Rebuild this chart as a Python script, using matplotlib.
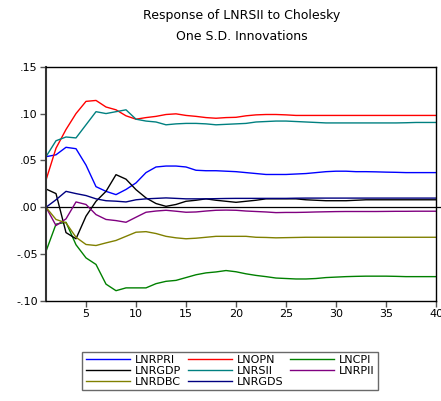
import matplotlib
matplotlib.use("Agg")
import matplotlib.pyplot as plt
import numpy as np

periods = np.arange(1, 41)

lnrpri = [0.054, 0.056, 0.064, 0.0625, 0.045, 0.022, 0.017, 0.0135, 0.019, 0.026,
          0.037, 0.043, 0.044, 0.044, 0.043, 0.0395, 0.039, 0.039, 0.0385, 0.038,
          0.037, 0.036, 0.035, 0.035, 0.035, 0.0355, 0.036, 0.037, 0.038, 0.0385,
          0.0385, 0.038, 0.038, 0.0378, 0.0375, 0.0373, 0.037, 0.037, 0.037, 0.037]
lnopn = [0.029, 0.063, 0.083, 0.100, 0.113, 0.114, 0.107, 0.104, 0.0976, 0.094,
         0.0957, 0.097, 0.099, 0.0997, 0.098, 0.097, 0.0957, 0.095, 0.0957, 0.096,
         0.0976, 0.0986, 0.099, 0.099, 0.0986, 0.098, 0.098, 0.098, 0.098, 0.098,
         0.098, 0.098, 0.098, 0.098, 0.098, 0.098, 0.098, 0.098, 0.098, 0.098]
lncpi = [-0.047, -0.018, -0.016, -0.040, -0.054, -0.061, -0.082, -0.089, -0.086, -0.086,
         -0.086, -0.0815, -0.079, -0.078, -0.075, -0.072, -0.070, -0.069, -0.0675, -0.0688,
         -0.071, -0.0727, -0.074, -0.0755, -0.076, -0.0765, -0.0765, -0.076, -0.075, -0.0745,
         -0.074, -0.0737, -0.0735, -0.0735, -0.0735, -0.0737, -0.074, -0.074, -0.074, -0.074]
lnrgdp = [0.0195, 0.0146, -0.027, -0.0336, -0.0095, 0.0064, 0.017, 0.0348, 0.030, 0.0188,
          0.010, 0.004, 0.001, 0.003, 0.0064, 0.0075, 0.009, 0.0075, 0.0064, 0.0053,
          0.0064, 0.0075, 0.009, 0.009, 0.009, 0.009, 0.008, 0.0075, 0.007, 0.007,
          0.007, 0.0075, 0.008, 0.008, 0.008, 0.008, 0.008, 0.008, 0.008, 0.008]
lnrsii = [0.054, 0.071, 0.075, 0.074, 0.088, 0.102, 0.100, 0.102, 0.104, 0.094,
          0.092, 0.091, 0.088, 0.089, 0.0895, 0.0895, 0.089, 0.088, 0.0885, 0.089,
          0.0895, 0.091, 0.0915, 0.092, 0.092, 0.0915, 0.091, 0.0905, 0.090, 0.090,
          0.090, 0.090, 0.090, 0.090, 0.090, 0.090, 0.0902, 0.0905, 0.0905, 0.0905]
lnrpii = [0.0, -0.0195, -0.0124, 0.0057, 0.003, -0.0078, -0.013, -0.0142, -0.016, -0.0106,
          -0.0053, -0.004, -0.0032, -0.0042, -0.0053, -0.005, -0.004, -0.0032, -0.003, -0.0032,
          -0.004, -0.0045, -0.005, -0.0057, -0.0055, -0.0055, -0.0053, -0.005, -0.0048, -0.0046,
          -0.0045, -0.0045, -0.0045, -0.0045, -0.0044, -0.0043, -0.0043, -0.0042, -0.0042, -0.0042]
lnrdbc = [0.0, -0.013, -0.0166, -0.032, -0.0397, -0.0408, -0.038, -0.0354, -0.031, -0.0266,
          -0.026, -0.028, -0.031, -0.0326, -0.0336, -0.033, -0.032, -0.031, -0.031, -0.031,
          -0.031, -0.032, -0.0322, -0.0326, -0.0324, -0.0322, -0.032, -0.032, -0.032, -0.032,
          -0.032, -0.032, -0.032, -0.032, -0.032, -0.032, -0.032, -0.032, -0.032, -0.032]
lnrgds = [0.0, 0.008, 0.017, 0.0146, 0.0125, 0.009, 0.007, 0.0065, 0.0057, 0.008,
          0.009, 0.0095, 0.010, 0.0095, 0.009, 0.009, 0.009, 0.0092, 0.0094, 0.0095,
          0.0095, 0.0095, 0.0095, 0.0095, 0.0095, 0.0097, 0.0098, 0.0098, 0.0098, 0.0098,
          0.0098, 0.0098, 0.0098, 0.0098, 0.0098, 0.0098, 0.0098, 0.0098, 0.0098, 0.0098]

series = {
    "LNRPRI": (lnrpri, "#0000FF"),
    "LNOPN": (lnopn, "#FF0000"),
    "LNCPI": (lncpi, "#008000"),
    "LNRGDP": (lnrgdp, "#000000"),
    "LNRSII": (lnrsii, "#008080"),
    "LNRPII": (lnrpii, "#800080"),
    "LNRDBC": (lnrdbc, "#808000"),
    "LNRGDS": (lnrgds, "#000080"),
}

yticks = [-0.10, -0.05, 0.00, 0.05, 0.10, 0.15]
ytick_labels = ["-.10", "-.05", ".00", ".05", ".10", ".15"]
xticks = [5, 10, 15, 20, 25, 30, 35, 40]

fig = plt.figure(figsize=(4.41, 4.01), dpi=100)
ax = fig.add_axes([46 / 441, 1 - 301 / 401, 390 / 441, (301 - 66.7) / 401])

lines = {}
for name, (vals, col) in series.items():
    (ln,) = ax.plot(periods, vals, color=col, lw=1.0, label=name)
    lines[name] = ln

ax.axhline(0, xmin=0, xmax=1.01, color="black", lw=0.9, clip_on=False, zorder=0)

ax.set_xlim(1, 40)
ax.set_ylim(-0.10, 0.15)
ax.set_yticks(yticks)
ax.set_yticklabels(ytick_labels)
ax.set_xticks(xticks)
ax.tick_params(axis="both", labelsize=8, length=4, width=1, color="#555555", pad=2)
for sp in ax.spines.values():
    sp.set_linewidth(1.0)
ax.spines["left"].set_linewidth(1.5)
ax.spines["left"].set_color("#333333")

fig.text(0.548, 1 - 15 / 401, "Response of LNRSII to Cholesky", ha="center", va="center", fontsize=9)
fig.text(0.548, 1 - 36 / 401, "One S.D. Innovations", ha="center", va="center", fontsize=9)

order = ["LNRPRI", "LNRGDP", "LNRDBC", "LNOPN", "LNRSII", "LNRGDS", "LNCPI", "LNRPII"]
leg = fig.legend([lines[n] for n in order], order, ncol=3, loc="center",
                 bbox_to_anchor=(230 / 441, 1 - 371 / 401), fontsize=8,
                 frameon=True, fancybox=False, edgecolor="#444444",
                 handlelength=4.0, handletextpad=0.4, columnspacing=0.6,
                 labelspacing=0.1, borderpad=0.3)
leg.get_frame().set_linewidth(1.0)

fig.savefig("out.png", dpi=100)
